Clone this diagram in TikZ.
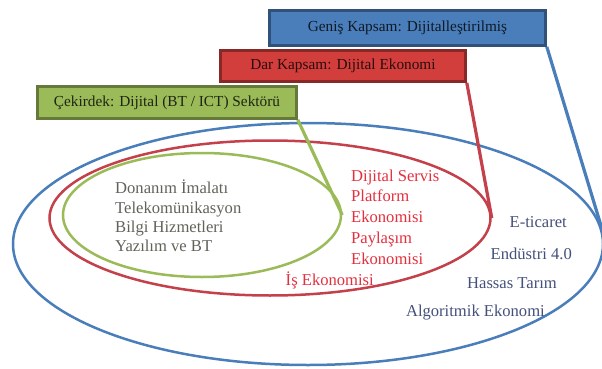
\documentclass[tikz,border=0pt]{standalone}
\usepackage{fontspec}
\setmainfont{Liberation Serif}
\usepackage{xcolor}
\usepackage{tikz}
\usetikzlibrary{shapes.geometric, positioning}
\definecolor{genismavi}{HTML}{4A7EBB}
\definecolor{darkirmizi}{HTML}{C4404A}
\definecolor{darkutu}{HTML}{D23E3C}
\definecolor{cekyesil}{HTML}{9BBB59}
\definecolor{yaziyesil}{HTML}{62625A}
\definecolor{yazikirmizi}{HTML}{E2303E}
\definecolor{yazimavi}{HTML}{44507A}
\tikzset{
  % Kapsam kutulari
  kutu/.style={rectangle, draw=#1!65!black, fill=#1, line width=2.6pt, inner sep=0pt, text=#1!20!black, font=\fontsize{15.3}{18}\selectfont},
  kutu/.default={genismavi},
  % Halkalar
  halka/.style={ellipse, draw=#1, line width=2.5pt, inner sep=0pt},
  baglanti/.style={draw=#1, line width=3.2pt},
  etiket/.style={font=\fontsize{16.6}{19.4}\selectfont, align=left, inner sep=0pt, text=#1},
}
\begin{document}
\begin{tikzpicture}[x=1pt, y=-1pt]
    \useasboundingbox (0,0) rectangle (602,369);

    % Halkalar
    \node[halka=genismavi, minimum width=590pt, minimum height=242pt] (genel) at (308,244) {};
    \node[halka=darkirmizi, minimum width=441pt, minimum height=155pt] (darel) at (270,218) {};
    \node[halka=cekyesil, minimum width=278pt, minimum height=124pt] (cekel) at (202,215) {};

    % Kutular
    \node[kutu=genismavi, minimum width=276pt, minimum height=35pt] (gen) at (407.5,28) {Geniş Kapsam: Dijitalleştirilmiş};
    \node[kutu=darkutu, minimum width=245pt, minimum height=31pt] (dar) at (343,66) {Dar Kapsam: Dijital Ekonomi};
    \node[kutu=cekyesil, minimum width=259pt, minimum height=32pt] (cek) at (167,102.5) {Çekirdek: Dijital (BT / ICT) Sektörü};

    % Baglantilar
    \draw[baglanti=genismavi] (gen.south east) -- (genel.3);
    \draw[baglanti=darkirmizi] (dar.south east) -- (darel.east);
    \draw[baglanti=cekyesil] (cek.south east) -- (cekel.east);

    % Cekirdek
    \node[etiket=yaziyesil, anchor=west] (cekyazi) at (115,216) {Donanım İmalatı\\Telekomünikasyon\\Bilgi Hizmetleri\\Yazılım ve BT};

    % Dar kapsam
    \node[etiket=yazikirmizi, anchor=west, font=\fontsize{16.6}{20.7}\selectfont] (daryazi) at (351,217) {Dijital Servis\\Platform\\Ekonomisi\\Paylaşım\\Ekonomisi};
    \node[etiket=yazikirmizi, anchor=east] (is) at (374,280) {İş Ekonomisi};

    % Genis kapsam
    \node[etiket=yazimavi, anchor=east] (eticaret) at (567,222) {E-ticaret};
    \node[etiket=yazimavi, anchor=east] (endustri) at (572,254) {Endüstri 4.0};
    \node[etiket=yazimavi, anchor=east] (tarim) at (557,283) {Hassas Tarım};
    \node[etiket=yazimavi, anchor=east] (algo) at (545,313) {Algoritmik Ekonomi};
\end{tikzpicture}
\end{document}
